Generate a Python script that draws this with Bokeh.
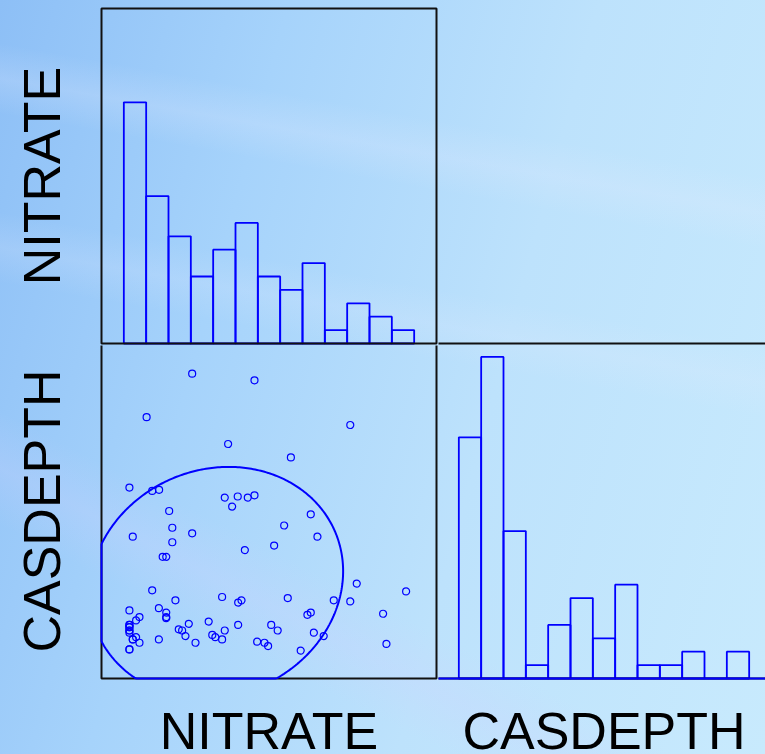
import numpy as np
from bokeh.plotting import figure
from bokeh.layouts import row, column
from bokeh.models import Label, Spacer
from bokeh.embed import file_html
from bokeh.resources import INLINE

# ---- data: 80 wells ---------------------------------------------------------
NITRATE = [
    3.06, 5.85, 1.02, 4.67, 10.14, 7.48, 0.25, 1.27, 1.58, 4.52,
    5.10, 5.55, 5.85, 4.85, 2.03, 8.37, 2.17, 3.06, 7.18, 0.40,
    8.67, 2.17, 6.73, 5.42, 1.74, 1.90, 10.43, 1.27, 12.64, 4.40,
    2.31, 7.34, 5.12, 5.27, 9.40, 10.14, 1.57, 0.25, 1.90, 8.37,
    8.22, 11.61, 0.70, 1.90, 1.90, 0.55, 3.80, 2.91, 0.25, 6.60,
    5.12, 0.25, 2.46, 2.61, 4.52, 6.89, 0.25, 8.51, 0.25, 3.96,
    8.95, 2.76, 4.10, 0.55, 0.40, 1.57, 4.40, 0.70, 5.97, 6.30,
    3.21, 11.76, 6.46, 0.25, 7.92, 0.25, 0.25, 0.25, 0.40, 0.25,
]
CASDEPTH = [
    253, 247, 214, 190, 207, 178, 151, 148, 149, 142,
    143, 142, 144, 134, 130, 127, 115, 110, 117, 107,
    107, 102, 99, 95, 89, 89, 65, 59, 58, 53,
    50, 52, 48, 50, 50, 49, 43, 41, 39, 39,
    37, 38, 35, 35, 34, 32, 31, 29, 28, 28,
    28, 26, 24, 23, 23, 23, 23, 21, 21, 19,
    18, 18, 17, 17, 15, 15, 15, 12, 13, 12,
    12, 11, 9, 6, 5, 28, 26, 23, 15, 6,
]
VARIABLES = ["NITRATE", "CASDEPTH"]

NITRATE_BINS = np.arange(0, 14, 1)      # 13 classes, 1 unit wide
CASDEPTH_BINS = np.arange(0, 280, 20)   # 13 classes, 20 units wide
COUNT_MAX = 25                           # top of the histogram count axis
ELLIPSE_K = 1.69                         # ellipse radius in standard deviations

# ---- layout (pixels) --------------------------------------------------------
WIDTH, HEIGHT = 765, 754
PANEL = 335          # side of each matrix cell
LEFT = 101           # left margin holding the row labels
TOP = 8
BOTTOM = 76          # bottom margin holding the column labels
GAP = 2              # room so shared frame lines are drawn whole
SIDE_MID = 41        # x of the middle of the rotated row labels
FOOT_MID = 24        # height of the middle of the column labels above the bottom

BLUE = "#0000ff"
INK = "#111111"
FONT = "Liberation Sans"
LABEL_SIZE = "52px"

BACKGROUND = (
    "linear-gradient(190deg, rgba(255,255,255,0) 20%, rgba(228,234,255,0.22) 24%, rgba(255,255,255,0) 28%),"
    "linear-gradient(190deg, rgba(255,255,255,0) 39%, rgba(228,234,255,0.18) 43%, rgba(255,255,255,0) 47%),"
    "linear-gradient(207deg, rgba(255,255,255,0) 70%, rgba(205,210,255,0.25) 75%, rgba(255,255,255,0) 80%),"
    "linear-gradient(105deg, #8dbff6 0%, #a6d3fb 30%, #bde2fc 62%, #c8eafd 100%)"
)

# ---- derived quantities -----------------------------------------------------
nit = np.asarray(NITRATE, dtype=float)
cas = np.asarray(CASDEPTH, dtype=float)
nit_counts, nit_edges = np.histogram(nit, bins=NITRATE_BINS)
cas_counts, cas_edges = np.histogram(cas, bins=CASDEPTH_BINS)


def cell_range(edges):
    """Each cell runs one class beyond the histogram classes on both sides."""
    w = edges[1] - edges[0]
    return float(edges[0] - w), float(edges[-1] + w)


nit_lo, nit_hi = cell_range(nit_edges)
cas_lo, cas_hi = cell_range(cas_edges)
# data units per pixel inside a cell
u_nit = (nit_hi - nit_lo) / PANEL
u_cas = (cas_hi - cas_lo) / PANEL
u_cnt = COUNT_MAX / PANEL

# normal-theory ellipse of the scatter, held inside the cell
mean = np.array([nit.mean(), cas.mean()])
chol = np.linalg.cholesky(np.cov(nit, cas))
t = np.linspace(0, 2 * np.pi, 400)
ell = mean[:, None] + ELLIPSE_K * chol @ np.vstack([np.cos(t), np.sin(t)])
ell_x = np.clip(ell[0], nit_lo, nit_hi)
ell_y = np.clip(ell[1], cas_lo, cas_hi)


def base_fig(**kw):
    p = figure(toolbar_location=None, output_backend="svg",
               x_axis_type=None, y_axis_type=None,
               background_fill_color=None, border_fill_color=None,
               outline_line_color=None, min_border=0, **kw)
    p.grid.grid_line_color = None
    return p


def cell_frame(p, x0, x1, y0, y1):
    p.quad(left=x0, right=x1, bottom=y0, top=y1, fill_color=None,
           line_color=INK, line_width=2)


def side_label(p, text, y):
    p.add_layout(Label(x=SIDE_MID, y=y, x_units="screen", y_units="data",
                       text=text, angle=np.pi / 2, text_align="center",
                       text_baseline="middle", text_font=FONT,
                       text_font_size=LABEL_SIZE, text_color="black"))


def foot_label(p, text, x):
    p.add_layout(Label(x=x, y=FOOT_MID, x_units="data", y_units="screen",
                       text=text, text_align="center",
                       text_baseline="middle", text_font=FONT,
                       text_font_size=LABEL_SIZE, text_color="black"))


left_w = LEFT + PANEL + GAP
right_w = WIDTH - left_w
x_nit = (nit_lo - LEFT * u_nit, nit_hi + GAP * u_nit)

# NITRATE histogram (top-left cell)
top_h = TOP + PANEL + GAP
p_nit = base_fig(width=left_w, height=top_h, x_range=x_nit,
                 y_range=(-GAP * u_cnt, COUNT_MAX + TOP * u_cnt))
p_nit.quad(left=nit_edges[:-1], right=nit_edges[1:], bottom=0, top=nit_counts,
           fill_color=None, line_color=BLUE, line_width=1.8)
cell_frame(p_nit, nit_lo, nit_hi, 0, COUNT_MAX)
side_label(p_nit, VARIABLES[0], COUNT_MAX / 2)

# CASDEPTH vs NITRATE scatter (bottom-left cell)
sc_h = HEIGHT - top_h
p_sc = base_fig(width=left_w, height=sc_h, x_range=x_nit,
                y_range=(cas_lo - BOTTOM * u_cas, cas_lo + (PANEL - GAP) * u_cas))
cell_frame(p_sc, nit_lo, nit_hi, cas_lo, cas_hi)
p_sc.scatter(nit, cas, marker="circle", size=7, fill_color=None,
             line_color=BLUE, line_width=1.2)
p_sc.line(ell_x, ell_y, line_color=BLUE, line_width=2)
side_label(p_sc, VARIABLES[1], (cas_lo + cas_hi) / 2)
foot_label(p_sc, VARIABLES[0], (nit_lo + nit_hi) / 2)

# CASDEPTH histogram (bottom-right cell, running past the page edge)
gap_h = TOP + PANEL - GAP
p_cas = base_fig(width=right_w, height=HEIGHT - gap_h,
                 x_range=(cas_lo + GAP * u_cas, cas_lo + (GAP + right_w) * u_cas),
                 y_range=(-BOTTOM * u_cnt, COUNT_MAX + GAP * u_cnt))
p_cas.quad(left=cas_edges[:-1], right=cas_edges[1:], bottom=0, top=cas_counts,
           fill_color=None, line_color=BLUE, line_width=1.8)
cell_frame(p_cas, cas_lo, cas_hi, 0, COUNT_MAX)
p_cas.segment(x0=[cas_lo], y0=[0], x1=[cas_hi], y1=[0],
              line_color=BLUE, line_width=2)
foot_label(p_cas, VARIABLES[1], (cas_lo + cas_hi) / 2)

layout = row(
    column(p_nit, p_sc, spacing=0),
    column(Spacer(width=right_w, height=gap_h), p_cas, spacing=0),
    spacing=0,
    styles={"background-image": BACKGROUND},
)

open("out.html", "w").write(file_html(layout, INLINE))
